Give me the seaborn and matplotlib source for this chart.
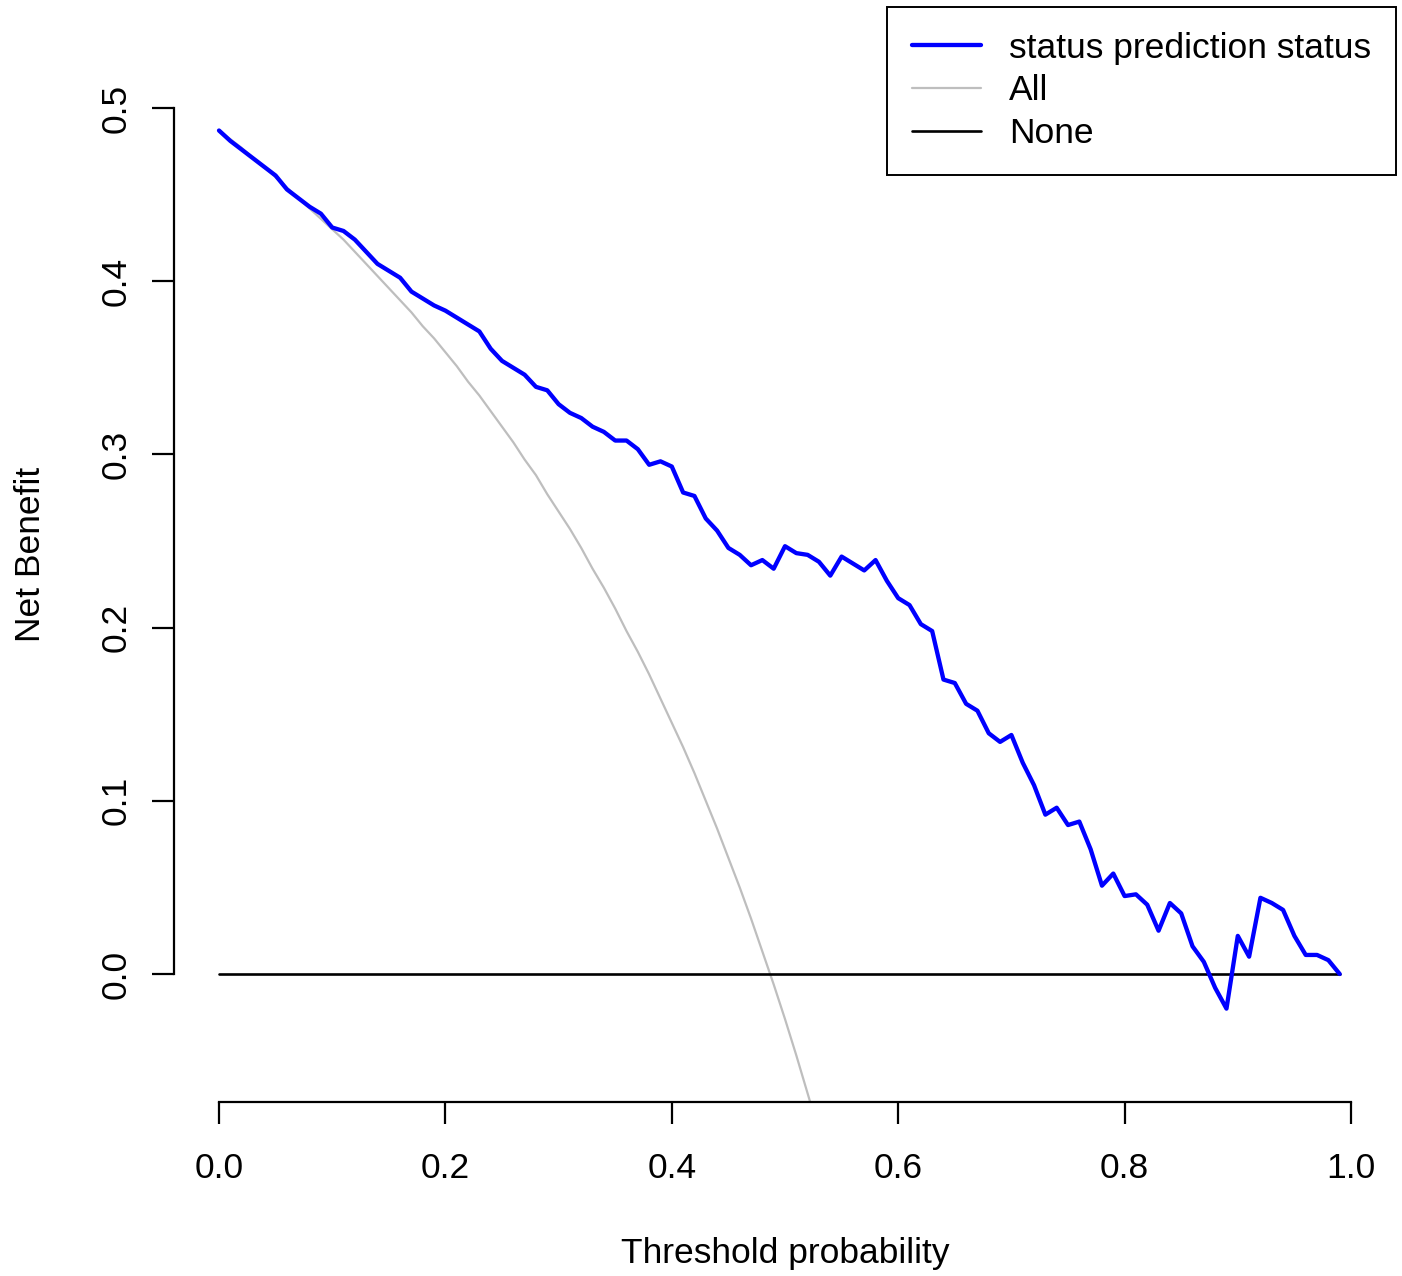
import numpy as np
import matplotlib
matplotlib.use("Agg")
import matplotlib.pyplot as plt
import seaborn as sns

# ---- data ----
thresholds = [round(i * 0.01, 2) for i in range(100)]
model_nb = [
    0.487, 0.481, 0.476, 0.471, 0.466, 0.461, 0.453, 0.448, 0.443, 0.439,
    0.431, 0.429, 0.424, 0.417, 0.410, 0.406, 0.402, 0.394, 0.390, 0.386,
    0.383, 0.379, 0.375, 0.371, 0.361, 0.354, 0.350, 0.346, 0.339, 0.337,
    0.329, 0.324, 0.321, 0.316, 0.313, 0.308, 0.308, 0.303, 0.294, 0.296,
    0.293, 0.278, 0.276, 0.263, 0.256, 0.246, 0.242, 0.236, 0.239, 0.234,
    0.247, 0.243, 0.242, 0.238, 0.230, 0.241, 0.237, 0.233, 0.239, 0.227,
    0.217, 0.213, 0.202, 0.198, 0.170, 0.168, 0.156, 0.152, 0.139, 0.134,
    0.138, 0.122, 0.109, 0.092, 0.096, 0.086, 0.088, 0.072, 0.051, 0.058,
    0.045, 0.046, 0.040, 0.025, 0.041, 0.035, 0.016, 0.007, -0.008, -0.020,
    0.022, 0.010, 0.044, 0.041, 0.037, 0.022, 0.011, 0.011, 0.008, 0.000,
]
all_thresholds = [round(i * 0.01, 2) for i in range(55)]
all_nb = [
    0.487, 0.482, 0.477, 0.471, 0.466, 0.460, 0.454, 0.448, 0.442, 0.436,
    0.430, 0.424, 0.417, 0.410, 0.403, 0.396, 0.389, 0.382, 0.374, 0.367,
    0.359, 0.351, 0.342, 0.334, 0.325, 0.316, 0.307, 0.297, 0.288, 0.277,
    0.267, 0.257, 0.246, 0.234, 0.223, 0.211, 0.198, 0.186, 0.173, 0.159,
    0.145, 0.131, 0.116, 0.100, 0.084, 0.067, 0.050, 0.032, 0.013, -0.006,
    -0.026, -0.047, -0.069, -0.091, -0.115,
]
none_nb = [0.0] * 100
series_labels = ["status prediction status", "All", "None"]
x_ticks = [0.0, 0.2, 0.4, 0.6, 0.8, 1.0]
x_ticklabels = ["0.0", "0.2", "0.4", "0.6", "0.8", "1.0"]
y_ticks = [0.0, 0.1, 0.2, 0.3, 0.4, 0.5]
y_ticklabels = ["0.0", "0.1", "0.2", "0.3", "0.4", "0.5"]

# ---- style ----
sns.set_theme(style="white")
plt.rcParams["font.family"] = ["Liberation Sans", "DejaVu Sans"]
FS = 25.5

W, H = 1402, 1276
fig = plt.figure(figsize=(W / 100, H / 100), dpi=100)
fig.patch.set_facecolor("white")
L, R, B, T = 174, 1396, 1102, 7
ax = fig.add_axes([L / W, 1 - B / H, (R - L) / W, (B - T) / H])
ax.set_facecolor("white")

sns.lineplot(x=thresholds, y=model_nb, ax=ax, color="#0000FF", linewidth=3.1,
             label=series_labels[0], zorder=3, sort=False,
             solid_joinstyle="round", solid_capstyle="round")
sns.lineplot(x=all_thresholds, y=all_nb, ax=ax, color="#BEBEBE", linewidth=1.6,
             label=series_labels[1], zorder=2, sort=False,
             solid_joinstyle="round")
sns.lineplot(x=thresholds, y=none_nb, ax=ax, color="black", linewidth=1.9,
             label=series_labels[2], zorder=2.5, sort=False)

# axis limits mimicking R's 4% extension
ax.set_xlim(-45 / 1132, 1 + 45 / 1132)
ax.set_ylim((974 - B) / 1732, (974 - T) / 1732)

for s in ["top", "right"]:
    ax.spines[s].set_visible(False)
ax.spines["left"].set_bounds(0, 0.5)
ax.spines["bottom"].set_bounds(0, 1)
for s in ["left", "bottom"]:
    ax.spines[s].set_linewidth(1.6)
    ax.spines[s].set_color("black")

ax.set_xticks(x_ticks)
ax.set_xticklabels(x_ticklabels)
ax.set_yticks(y_ticks)
ax.set_yticklabels(y_ticklabels)
ax.tick_params(axis="both", which="major", direction="out", length=15.8,
               width=1.6, color="black", labelsize=FS, labelcolor="black",
               left=True, bottom=True)
ax.tick_params(axis="x", pad=20)
ax.tick_params(axis="y", pad=14)
for lab in ax.get_yticklabels():
    lab.set_rotation(90)
    lab.set_va("center")
    lab.set_ha("right")

ax.set_xlabel("Threshold probability", fontsize=FS, color="black")
ax.xaxis.set_label_coords(0.5, (B - 1237) / (B - T))
ax.xaxis.label.set_va("top")
ax.set_ylabel("Net Benefit", fontsize=FS, color="black")
ax.yaxis.set_label_coords((47 - L) / (R - L), 0.5)

leg = ax.legend(loc="upper right", bbox_to_anchor=(1.0, 1.0), borderaxespad=0,
                fontsize=FS, frameon=True, fancybox=False, framealpha=1,
                edgecolor="black", handlelength=1.95, handletextpad=0.8,
                borderpad=0.7, labelspacing=0.27)
leg.get_frame().set_linewidth(1.4)
for t in leg.get_texts():
    t.set_color("black")

fig.savefig("out.png", dpi=100, facecolor="white")
